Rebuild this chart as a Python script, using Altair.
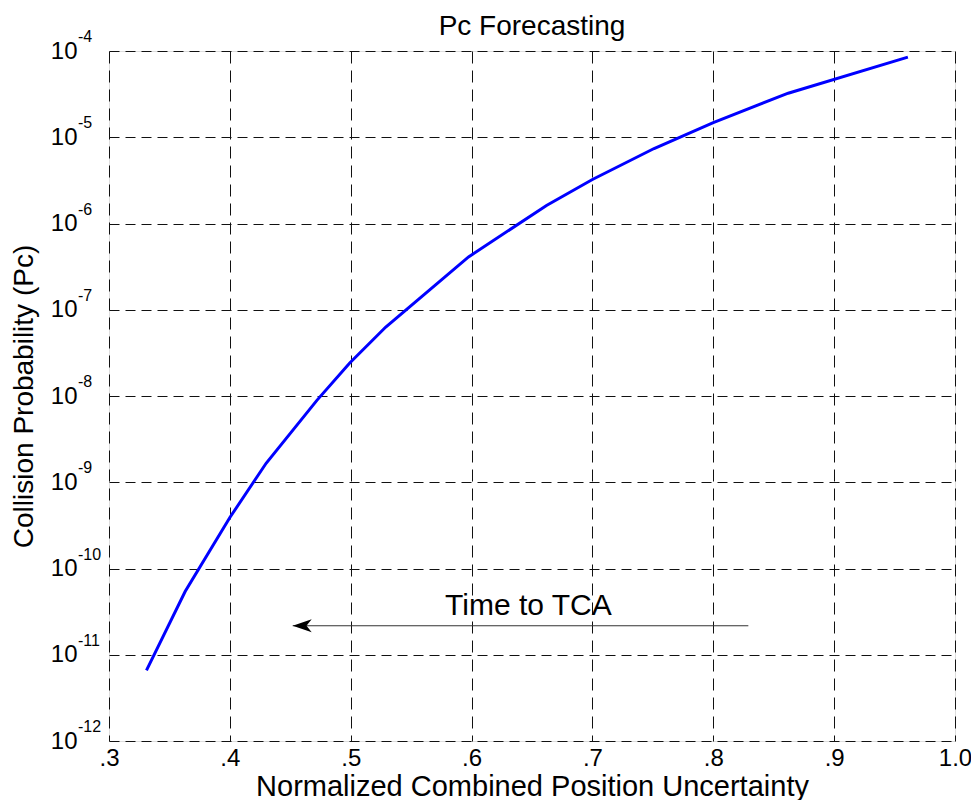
import altair as alt
import pandas as pd

# Curve: normalized combined position uncertainty vs. collision probability
x_vals = [0.331, 0.363, 0.400, 0.430, 0.472, 0.499, 0.529, 0.5975, 0.662, 0.700, 0.751, 0.800, 0.862, 0.961]
pc_vals = [6.6e-12, 5.4e-11, 3.9e-10, 1.66e-9, 8.9e-9, 2.4e-8, 6.3e-8, 4.1e-7, 1.62e-6, 3.24e-6, 7.4e-6, 1.48e-5, 3.24e-5, 8.5e-5]

# Axis ticks
x_ticks = [0.3, 0.4, 0.5, 0.6, 0.7, 0.8, 0.9, 1.0]
y_ticks = [1e-12, 1e-11, 1e-10, 1e-9, 1e-8, 1e-7, 1e-6, 1e-5, 1e-4]
y_exponents = ["-12", "-11", "-10", "-9", "-8", "-7", "-6", "-5", "-4"]

# Annotation
arrow_x = [0.452, 0.829]
arrow_y = [2.17e-11, 2.17e-11]
note_text = ["Time to TCA"]
note_x = [0.647]
note_y = [2.9e-11]

FONT = "Liberation Sans"

curve_df = pd.DataFrame({"x": x_vals, "y": pc_vals})
arrow_df = pd.DataFrame({"x": [arrow_x[0]], "x2": [arrow_x[1]], "y": [arrow_y[0]]})
head_df = pd.DataFrame({"x": [arrow_x[0]], "y": [arrow_y[0]]})
note_df = pd.DataFrame({"x": note_x, "y": note_y, "t": note_text})
exp_df = pd.DataFrame({"x": [x_ticks[0]] * len(y_ticks), "y": y_ticks, "t": y_exponents})

xscale = alt.Scale(domain=[0.3, 1.0], nice=False, zero=False)
yscale = alt.Scale(type="log", domain=[1e-12, 1e-4], nice=False)

xaxis = alt.Axis(
    title="Normalized Combined Position Uncertainty",
    values=x_ticks,
    labelExpr="datum.value == 1 ? '1.0' : slice(format(datum.value, '.1f'), 1)",
    labelFontSize=24, labelFont=FONT, labelColor="black", labelPadding=5,
    labelFlush=False, labelOverlap=False,
    titleFontSize=29, titleFont=FONT, titleFontWeight="normal", titleColor="black",
    titlePadding=2,
    grid=True, gridColor="#111111", gridDash=[12, 7], gridWidth=1, gridOpacity=1,
    ticks=False, domain=False,
)
yaxis = alt.Axis(
    title="Collision Probability (Pc)",
    values=y_ticks,
    labelExpr="'10'",
    labelFontSize=24, labelFont=FONT, labelColor="black", labelPadding=32,
    labelFlush=False, labelOverlap=False, labelBaseline="middle",
    titleFontSize=28, titleFont=FONT, titleFontWeight="normal", titleColor="black",
    titlePadding=12,
    grid=True, gridColor="#111111", gridDash=[10, 6], gridWidth=1, gridOpacity=1,
    ticks=False, domain=False,
)

X = alt.X("x:Q", scale=xscale, axis=xaxis)
Y = alt.Y("y:Q", scale=yscale, axis=yaxis)

curve = alt.Chart(curve_df).mark_line(color="#0000ff", strokeWidth=3).encode(x=X, y=Y)

arrow = alt.Chart(arrow_df).mark_rule(color="#333333", strokeWidth=1.2).encode(
    x=X, x2="x2:Q", y=Y
)
head = alt.Chart(head_df).mark_point(
    shape="M0,0L2,-0.68L1.45,0L2,0.68Z", filled=True, color="black",
    size=361, opacity=1, strokeWidth=0
).encode(x=X, y=Y)

note = alt.Chart(note_df).mark_text(
    font=FONT, fontSize=30, color="black", align="center", baseline="alphabetic"
).encode(x=X, y=Y, text="t:N")

exps = alt.Chart(exp_df).mark_text(
    font=FONT, fontSize=16, color="black", align="left", baseline="middle",
    dx=-31, dy=-14, clip=False
).encode(x=X, y=Y, text="t:N")

chart = alt.layer(curve, arrow, head, note, exps).properties(
    width=846,
    height=690,
    title=alt.TitleParams(
        "Pc Forecasting", font=FONT, fontSize=28, fontWeight="normal",
        color="black", anchor="middle", frame="group", offset=-12
    ),
    autosize=alt.AutoSizeParams(type="none"),
    padding={"left": 101, "top": 43, "right": 16, "bottom": 59},
).configure_view(
    stroke="black", strokeWidth=1
).configure(background="white")

chart.save("out.html", embed_options={"renderer": "svg", "actions": False})
